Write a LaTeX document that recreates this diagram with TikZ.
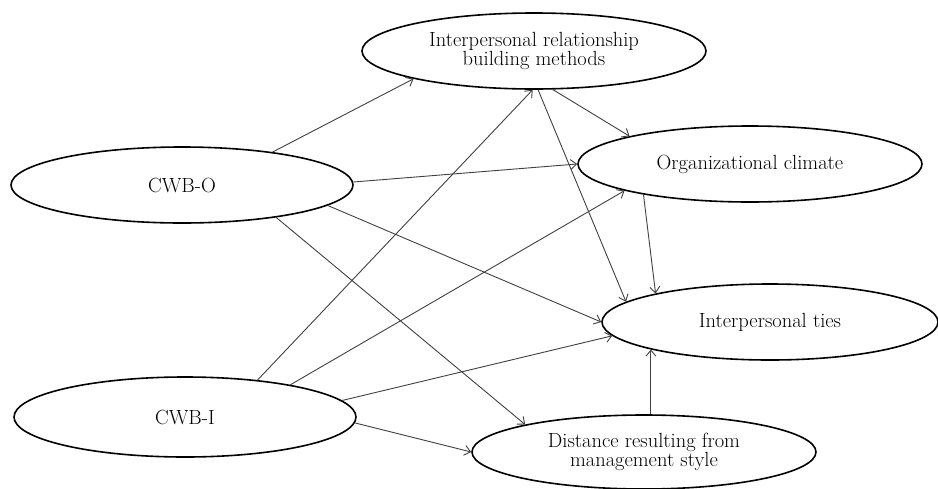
\documentclass[tikz,border=0pt]{standalone}
\usetikzlibrary{shapes.geometric,arrows.meta}
\begin{document}
\begin{tikzpicture}[x=1pt,y=-1pt,
  var/.style={draw=black, line width=1.6pt, ellipse, inner sep=0pt,
    minimum width=342pt, minimum height=76pt, align=center,
    font=\fontsize{20.5}{18.5}\selectfont, text=black},
  arr/.style={draw=black!75, line width=0.9pt, -{Straight Barb[length=6pt,width=10pt]}}]
\useasboundingbox (0,0) rectangle (938,488);
\node[var] (O) at (182,185) {CWB-O};
\node[var, minimum height=80pt] (I) at (185,417) {CWB-I};
\node[var, minimum width=344pt] (R) at (534,51) {Interpersonal relationship\\building methods};
\node[var, minimum width=344pt] (C) at (750,164) {Organizational climate};
\node[var, minimum width=336pt] (T) at (770,322) {Interpersonal ties};
\node[var, minimum width=344pt, minimum height=74pt] (D) at (644,452) {Distance resulting from\\management style};
% from CWB-O
\draw[arr] (O.20.5) -- (R.193);
\draw[arr] (O.1) -- (C.180);
\draw[arr] (O.-8) -- (T.180);
\draw[arr] (O.-19) -- (D.167.5);
% from CWB-I
\draw[arr] (I.27.5) -- (R.268);
\draw[arr] (I.17.7) -- (C.192.8);
\draw[arr] (I.6) -- (T.185);
\draw[arr] (I.-2) -- (D.180);
% among mediators
\draw[arr] (R.-64) -- (C.167.2);
\draw[arr] (R.-84) -- (T.172.8);
\draw[arr] (C.196) -- (T.166.2);
\draw[arr] (T.193 |- D.north) -- (T.193);
\end{tikzpicture}
\end{document}
